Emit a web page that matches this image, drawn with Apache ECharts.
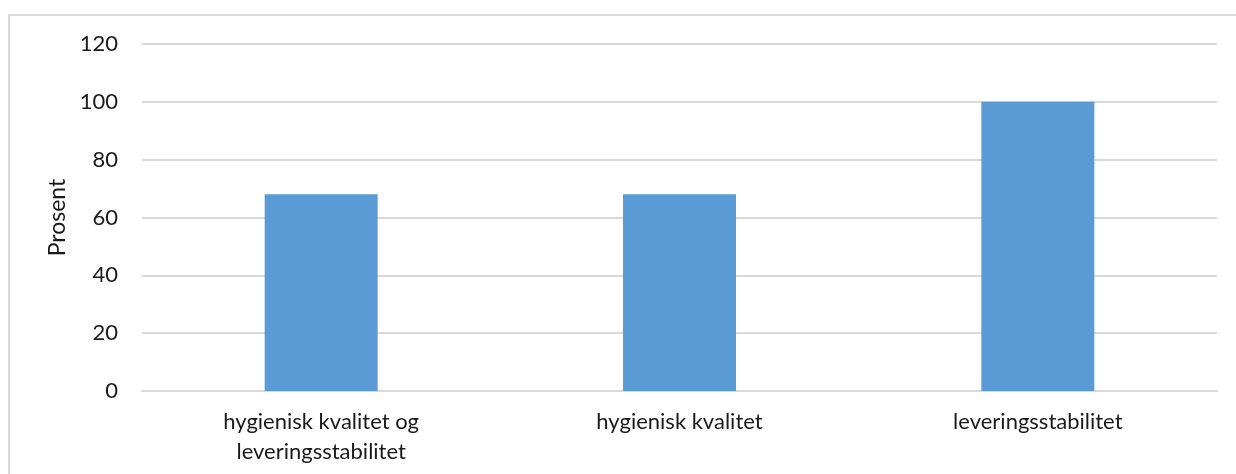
<!DOCTYPE html>
<html>
<head>
<meta charset="utf-8">
<script src="https://cdn.jsdelivr.net/npm/echarts@6/dist/echarts.min.js"></script>
<style>html,body{margin:0;padding:0;background:#fff;}#c{width:1236px;height:474px;}</style>
</head>
<body>
<div id="c"></div>
<script>
var categories = ['hygienisk kvalitet og\nleveringsstabilitet', 'hygienisk kvalitet', 'leveringsstabilitet'];
var values = [68, 68, 100];
var yTicks = {min: 0, max: 120, interval: 20};
var yName = 'Prosent';

var chart = echarts.init(document.getElementById('c'), null, {renderer: 'canvas'});
var font = 'Lato, "Open Sans", sans-serif';
chart.setOption({
  animation: false,
  backgroundColor: '#fff',
  graphic: [{
    type: 'rect', shape: {x: 9, y: 15, width: 1400, height: 600},
    style: {fill: 'none', stroke: '#d9d9d9', lineWidth: 2}, silent: true
  }],
  grid: {left: 142, right: 19, top: 44, bottom: 83, containLabel: false},
  xAxis: {
    type: 'category', data: categories,
    axisLine: {show: true, lineStyle: {color: '#d9d9d9', width: 2}},
    axisTick: {show: false},
    axisLabel: {color: '#1a1a1a', fontFamily: font, fontSize: 22, lineHeight: 30, margin: 16, interval: 0}
  },
  yAxis: {
    type: 'value', min: yTicks.min, max: yTicks.max, interval: yTicks.interval,
    name: yName, nameLocation: 'middle', nameGap: 73, nameRotate: 90,
    nameTextStyle: {color: '#1a1a1a', fontFamily: font, fontSize: 23},
    axisLine: {show: false}, axisTick: {show: false},
    axisLabel: {color: '#1a1a1a', fontFamily: font, fontSize: 22, margin: 24},
    splitLine: {lineStyle: {color: '#d9d9d9', width: 2}}
  },
  series: [{
    type: 'bar', data: values, barWidth: 113,
    itemStyle: {color: '#5b9bd5'}
  }]
});
</script>
</body>
</html>
